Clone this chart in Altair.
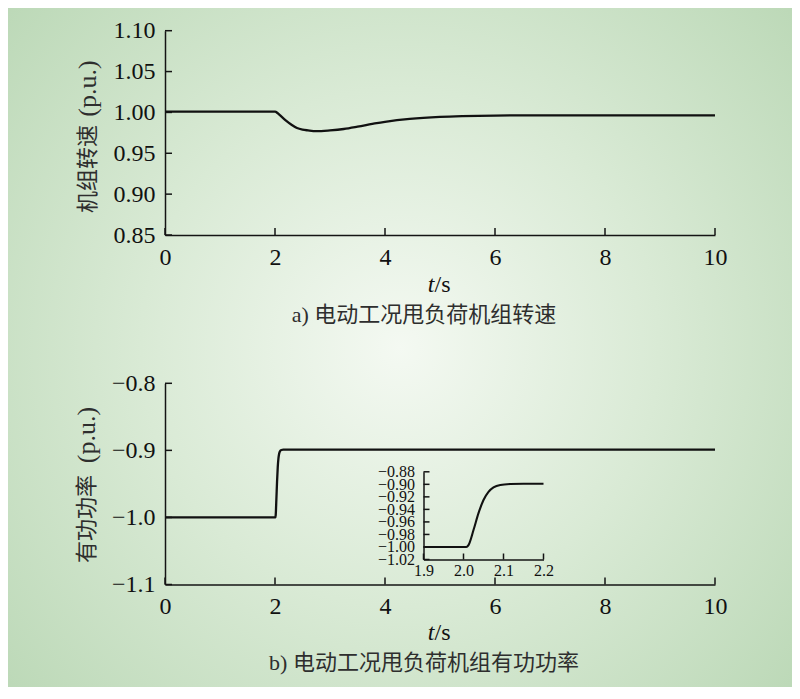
import altair as alt
import pandas as pd

# ---------------- data ----------------
t_speed = [0, 1.0, 2.0, 2.05, 2.1, 2.2, 2.3, 2.4, 2.5, 2.6, 2.75, 3.0, 3.25, 3.5, 3.85, 4.0,
           4.45, 5.0, 5.4, 6.0, 7.0, 8.0, 10.0]
speed = [1.001, 1.001, 1.001, 0.999, 0.996, 0.990, 0.985, 0.981, 0.979, 0.978, 0.977, 0.978,
         0.9797, 0.9825, 0.987, 0.9885, 0.992, 0.9945, 0.9955, 0.9962, 0.9964, 0.9965, 0.9963]

t_power = [0, 1.9, 2.0, 2.007, 2.0125, 2.025, 2.0375, 2.05, 2.0625, 2.075, 2.092, 2.117, 2.15,
           2.2, 5.0, 10.0]
power = [-1.0, -1.0, -1.0, -1.0, -0.997, -0.973, -0.946, -0.925, -0.912, -0.905, -0.901,
         -0.8995, -0.899, -0.899, -0.899, -0.899]

time_ticks = [0, 2, 4, 6, 8, 10]
speed_ticks = [0.85, 0.90, 0.95, 1.00, 1.05, 1.10]
power_ticks = [-1.1, -1.0, -0.9, -0.8]
inset_t_ticks = [1.9, 2.0, 2.1, 2.2]
inset_p_ticks = [-1.02, -1.00, -0.98, -0.96, -0.94, -0.92, -0.90, -0.88]

speed_title = "机组转速"
power_title = "有功功率"
unit_title = "(p.u.)"
caption_a = "a) 电动工况甩负荷机组转速"
caption_b = "b) 电动工况甩负荷机组有功功率"

# ---------------- layout (chart pixels) ----------------
W, H = 784, 679
X_MAIN = [157, 707]
Y_TOP = [227, 22.7]
Y_BOT = [576.5, 375.3]
X_INS = [415.5, 535.5]
Y_INS = [551.5, 463.8]
TICK = 7
TICK_INS = 6

SERIF = "Liberation Serif, Noto Sans CJK SC"
INK = "#141414"

df_speed = pd.DataFrame({"t": t_speed, "v": speed})
df_power = pd.DataFrame({"t": t_power, "v": power})
one = pd.DataFrame({"k": [0]})


def sc(domain, rng):
    return alt.Scale(domain=domain, range=rng, zero=False, nice=False)


def ax(orient, offset, values, fmt, size=24, pad=10):
    return alt.Axis(orient=orient, offset=offset, values=values, format=fmt, title=None,
                    grid=False, ticks=False, tickSize=0, domainColor=INK, domainWidth=1.5,
                    labelFont="Liberation Serif", labelFontSize=size, labelColor="#111111",
                    labelFlush=False, labelOverlap=False, labelPadding=pad, zindex=2)


def line(df, xdom, xr, ydom, yr, xaxis, yaxis, width=2.3):
    return alt.Chart(df).mark_line(color="#111111", strokeWidth=width, interpolate="monotone").encode(
        x=alt.X("t:Q", scale=sc(xdom, xr), axis=xaxis),
        y=alt.Y("v:Q", scale=sc(ydom, yr), axis=yaxis),
    )


def xticks(vals, dom, rng, ybase, size):
    return alt.Chart(pd.DataFrame({"t": vals})).mark_rule(color=INK, strokeWidth=1.5).encode(
        x=alt.X("t:Q", scale=sc(dom, rng), axis=None),
        y=alt.value(ybase), y2=alt.value(ybase - size),
    )


def yticks(vals, dom, rng, xbase, size):
    return alt.Chart(pd.DataFrame({"v": vals})).mark_rule(color=INK, strokeWidth=1.5).encode(
        y=alt.Y("v:Q", scale=sc(dom, rng), axis=None),
        x=alt.value(xbase), x2=alt.value(xbase + size),
    )


def text(s, x, y, size=22, angle=0, align="center", baseline="alphabetic", style="normal",
         font=SERIF, color="#222222"):
    return alt.Chart(one).mark_text(text=s, fontSize=size, angle=angle, align=align,
                                    baseline=baseline, fontStyle=style, font=font,
                                    color=color).encode(x=alt.value(x), y=alt.value(y))


grad = alt.RadialGradient(
    gradient="radial", x1=0.5, y1=0.5, r1=0, x2=0.5, y2=0.5, r2=0.72,
    stops=[alt.GradientStop(offset=0, color="#f4f9f2"),
           alt.GradientStop(offset=0.45, color="#d9ead5"),
           alt.GradientStop(offset=1, color="#b6d5b1")],
)
bg = alt.Chart(one).mark_rect(fill=grad).encode(
    x=alt.value(-8), x2=alt.value(W + 8), y=alt.value(-8), y2=alt.value(H + 8))

top_line = line(df_speed, [0, 10], X_MAIN, [0.85, 1.10], Y_TOP,
                ax("bottom", Y_TOP[0] - H, time_ticks, "d"),
                ax("left", -X_MAIN[0], speed_ticks, ".2f"))
top_xt = xticks(time_ticks, [0, 10], X_MAIN, Y_TOP[0], TICK)
top_yt = yticks(speed_ticks, [0.85, 1.10], Y_TOP, X_MAIN[0], TICK)

bot_line = line(df_power, [0, 10], X_MAIN, [-1.1, -0.8], Y_BOT,
                ax("bottom", Y_BOT[0] - H, time_ticks, "d"),
                ax("left", -X_MAIN[0], power_ticks, ".1f"))
bot_xt = xticks(time_ticks, [0, 10], X_MAIN, Y_BOT[0], TICK)
bot_yt = yticks(power_ticks, [-1.1, -0.8], Y_BOT, X_MAIN[0], TICK)

ins_line = line(df_power, [1.9, 2.2], X_INS, [-1.02, -0.88], Y_INS,
                ax("bottom", Y_INS[0] - H, inset_t_ticks, ".1f", size=16, pad=3),
                ax("left", -X_INS[0], inset_p_ticks, ".2f", size=16, pad=9),
                width=2.1).transform_filter("datum.t >= 1.9 && datum.t <= 2.2")
ins_xt = xticks(inset_t_ticks, [1.9, 2.2], X_INS, Y_INS[0], TICK_INS)
ins_yt = yticks(inset_p_ticks, [-1.02, -0.88], Y_INS, X_INS[0], TICK_INS)

TITLE_C = "#2e2e2e"
texts = [
    text(speed_title, 80, 161, size=22, angle=270, baseline="middle",
         font="Noto Sans CJK SC", color=TITLE_C),
    text(unit_title, 80, 80.5, size=26, angle=270, baseline="middle",
         font="Liberation Serif", color=TITLE_C),
    text(power_title, 79, 511, size=22, angle=270, baseline="middle",
         font="Noto Sans CJK SC", color=TITLE_C),
    text(unit_title, 79, 427, size=26, angle=270, baseline="middle",
         font="Liberation Serif", color=TITLE_C),
    text("t", 426.5, 283.5, size=24, align="right", style="italic", font="Liberation Serif",
         color="#111111"),
    text("/s", 426.5, 283.5, size=24, align="left", font="Liberation Serif", color="#111111"),
    text("t", 426.5, 632, size=24, align="right", style="italic", font="Liberation Serif",
         color="#111111"),
    text("/s", 426.5, 632, size=24, align="left", font="Liberation Serif", color="#111111"),
    text(caption_a, 416, 313.5, size=22, color=TITLE_C),
    text(caption_b, 416, 661.5, size=22, color=TITLE_C),
]

chart = alt.layer(
    bg, top_line, top_xt, top_yt, bot_line, bot_xt, bot_yt, ins_line, ins_xt, ins_yt, *texts
).resolve_scale(x="independent", y="independent").properties(
    width=W, height=H, autosize=alt.AutoSizeParams(type="none"), padding=0
).configure_view(stroke=None)

chart.save("out.html", embed_options={"renderer": "svg", "actions": False})
